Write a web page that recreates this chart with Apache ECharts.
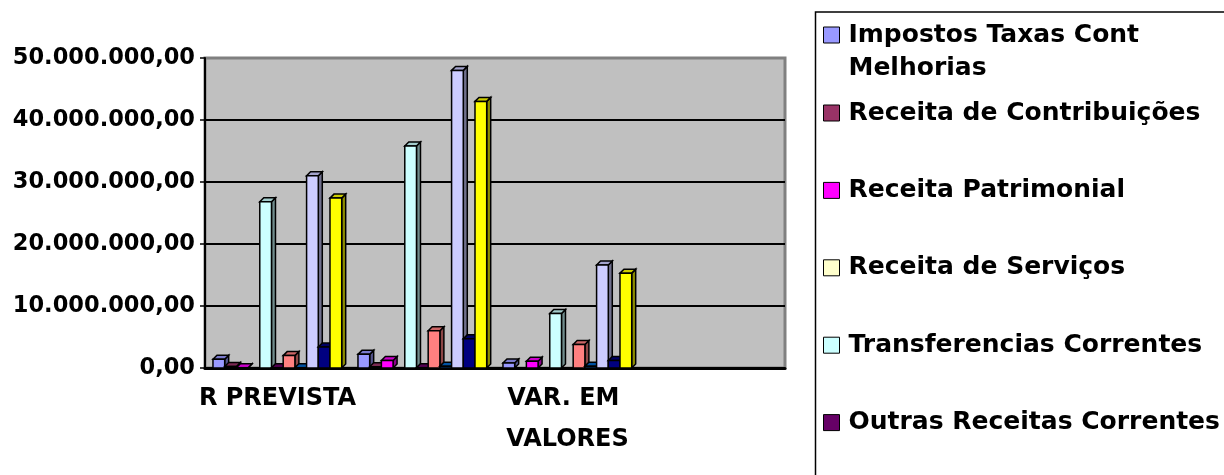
<!DOCTYPE html>
<html>
<head>
<meta charset="utf-8">
<title>Receitas</title>
<script src="https://cdn.jsdelivr.net/npm/echarts@6/dist/echarts.min.js"></script>
<style>
  html, body { margin: 0; padding: 0; background: #fff; }
  #main { width: 1224px; height: 475px; }
</style>
</head>
<body>
<div id="main"></div>
<script>
// categorias do eixo X (só a 1ª e a 3ª aparecem no gráfico original)
var categories = ['R PREVISTA', 'R ARRECADADA', 'VAR. EM VALORES', 'VAR. %'];

// valores em R$, um array por série, na ordem das categorias
var impostos       = [1400000, 2200000, 800000, 0];
var contribuicoes  = [250000, 200000, 0, 0];
var patrimonial    = [50000, 1200000, 1100000, 0];
var servicos       = [0, 0, 0, 0];
var transferencias = [26800000, 35800000, 8800000, 0];
var outras         = [50000, 50000, 0, 0];
var capital        = [2000000, 6000000, 3800000, 0];
var intraOrc       = [50000, 300000, 300000, 0];
var totalReceitas  = [31000000, 48000000, 16600000, 0];
var deducoes       = [3400000, 4700000, 1200000, 0];
var receitaLiquida = [27400000, 43000000, 15300000, 0];

var seriesNames = [
    'Impostos Taxas Cont Melhorias',
    'Receita de Contribuições',
    'Receita Patrimonial',
    'Receita de Serviços',
    'Transferencias Correntes',
    'Outras Receitas Correntes',
    'Receitas de Capital',
    'Receitas Intra-Orçamentárias',
    'Total das Receitas',
    'Deduções da Receita',
    'Receita Líquida'
];
var seriesValues = [impostos, contribuicoes, patrimonial, servicos, transferencias,
    outras, capital, intraOrc, totalReceitas, deducoes, receitaLiquida];
var seriesColors = ['#9999FF', '#993366', '#FF00FF', '#FFFFCC', '#CCFFFF', '#660066',
    '#FF8080', '#0066CC', '#CCCCFF', '#000080', '#FFFF00'];

var yTicks = [0, 10000000, 20000000, 30000000, 40000000, 50000000];

var FONT = 'DejaVu Sans';
var DEPTH = 4;

function fmtBR(v) {
    var s = Math.round(v).toString().replace(/\B(?=(\d{3})+(?!\d))/g, '.');
    return s + ',00';
}

function shade(hex, f) {
    var n = parseInt(hex.slice(1), 16);
    var r = Math.round(((n >> 16) & 255) * f);
    var g = Math.round(((n >> 8) & 255) * f);
    var b = Math.round((n & 255) * f);
    return 'rgb(' + r + ',' + g + ',' + b + ')';
}

// barra "3D": frente + topo + lateral
function bar3d(si) {
    return function (params, api) {
        var val = api.value(1);
        if (!val) return;
        var cat = api.value(0);
        var base = api.coord([cat, 0]);
        var top = api.coord([cat, val]);
        var band = api.size([1, 0])[0];
        var w = band * 0.0807;
        var x0 = base[0] - band * 0.445 + si * w;
        var x1 = x0 + w, yb = base[1], yt = top[1], d = DEPTH;
        var c = seriesColors[si];
        var lw = 1.5;
        return {
            type: 'group',
            children: [{
                type: 'polygon',
                shape: { points: [[x1, yb], [x1 + d, yb - d], [x1 + d, yt - d], [x1, yt]] },
                style: { fill: shade(c, 0.55), stroke: '#000', lineWidth: lw }
            }, {
                type: 'polygon',
                shape: { points: [[x0, yt], [x0 + d, yt - d], [x1 + d, yt - d], [x1, yt]] },
                style: { fill: shade(c, 0.8), stroke: '#000', lineWidth: lw }
            }, {
                type: 'rect',
                shape: { x: x0, y: yt, width: w, height: yb - yt },
                style: { fill: c, stroke: '#000', lineWidth: lw }
            }]
        };
    };
}

var series = seriesNames.map(function (name, i) {
    return {
        name: name,
        type: 'custom',
        renderItem: bar3d(i),
        itemStyle: { color: seriesColors[i] },
        encode: { x: 0, y: 1 },
        data: seriesValues[i].map(function (v, k) { return [k, v]; })
    };
});

// uma legenda por série para posicionar como no original
var legends = seriesNames.map(function (name, i) {
    var center = i === 0 ? 35 : 113 + (i - 1) * 77.4;
    var text = i === 0 ? '\nImpostos Taxas Cont\nMelhorias' : name;
    var h = i === 0 ? 99 : 33;
    return {
        data: [name],
        left: 823,
        top: center - h / 2,
        padding: 0,
        icon: 'rect',
        itemWidth: 16,
        itemHeight: 16,
        itemStyle: { borderColor: '#000', borderWidth: 1 },
        formatter: function () { return text; },
        selectedMode: false,
        textStyle: {
            fontFamily: FONT, fontWeight: 'bold', fontSize: 25,
            lineHeight: 33, color: '#000', padding: [0, 0, 0, 4]
        }
    };
});

var chart = echarts.init(document.getElementById('main'), null, { renderer: 'canvas' });
chart.setOption({
    animation: false,
    backgroundColor: '#fff',
    color: seriesColors,
    grid: {
        left: 205, top: 58, right: 439, bottom: 107,
        show: true, backgroundColor: '#C0C0C0',
        borderColor: '#808080', borderWidth: 3
    },
    legend: legends,
    graphic: [{
        type: 'rect',
        shape: { x: 815.5, y: 12, width: 700, height: 600 },
        style: { fill: null, stroke: '#000', lineWidth: 1.5 },
        z: -1
    }],
    xAxis: {
        type: 'category',
        data: categories,
        axisLine: { lineStyle: { color: '#000', width: 3 } },
        axisTick: { interval: 0, length: 6, lineStyle: { color: '#000', width: 1.5 } },
        axisLabel: {
            interval: 1, margin: 10, color: '#000',
            fontFamily: FONT, fontWeight: 'bold', fontSize: 24, lineHeight: 41,
            width: 170, overflow: 'break'
        },
        splitLine: { show: false }
    },
    yAxis: {
        type: 'value',
        min: yTicks[0],
        max: yTicks[yTicks.length - 1],
        interval: yTicks[1] - yTicks[0],
        axisLine: { show: true, lineStyle: { color: '#000', width: 2 } },
        axisTick: { show: true, length: 5, lineStyle: { color: '#000', width: 1.5 } },
        axisLabel: {
            margin: 10, color: '#000',
            fontFamily: FONT, fontWeight: 'bold', fontSize: 22.5,
            formatter: fmtBR
        },
        splitLine: {
            lineStyle: { color: ['#000', '#000', '#000', '#000', '#000', '#808080'], width: 2 }
        }
    },
    series: series
});
</script>
</body>
</html>
